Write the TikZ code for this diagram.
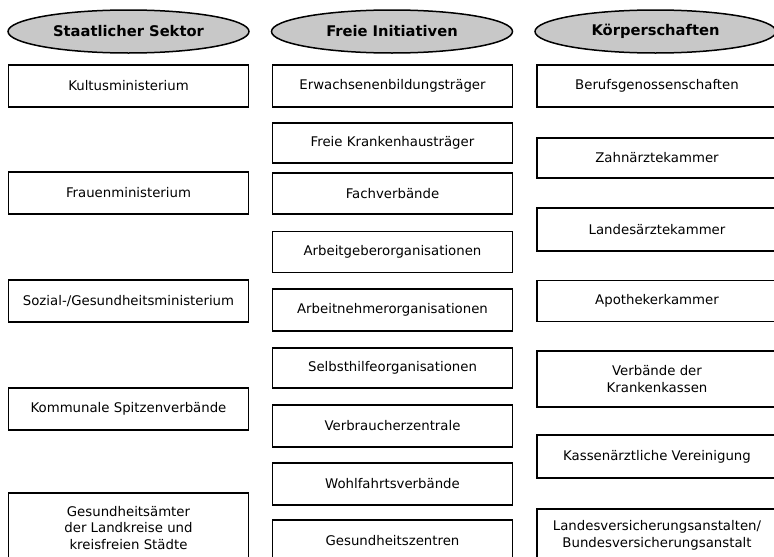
\documentclass[tikz,border=0pt]{standalone}
\usepackage{fontspec}
\setmainfont{DejaVu Sans}
\usetikzlibrary{shapes.geometric}
\definecolor{hdgray}{HTML}{C8C8C8}

\begin{document}
\begin{tikzpicture}[x=1pt,y=-1pt,
    head/.style={ellipse,draw,line width=1.5pt,fill=hdgray,
      minimum width=241pt,minimum height=43pt,inner sep=0pt,
      font=\fontsize{14.7}{17}\selectfont\bfseries},
    org/.style={rectangle,draw,line width=1.5pt,
      minimum width=240pt,minimum height=42pt,inner sep=0pt,
      align=center,font=\fontsize{13.3}{16.5}\selectfont}]

  \path[use as bounding box,clip] (0,0) rectangle (774,557);

  % --- column heads ---
  \node[head] (staat) at (128.5,31.5) {Staatlicher Sektor};
  \node[head] (frei)  at (392,31.5)   {Freie Initiativen};
  \node[head] (koerp) at (655.5,31.5) {Körperschaften};

  % --- staatlicher sektor ---
  \node[org] (kultus) at (128.5,86)  {Kultusministerium};
  \node[org] (frauen) at (128.5,193) {Frauenministerium};
  \node[org] (sozial) at (128.5,301) {Sozial-/Gesundheitsministerium};
  \node[org] (kommun) at (128.5,409) {Kommunale Spitzenverbände};
  \node[org,minimum height=70pt] (gesamt) at (128.5,528)
        {Gesundheitsämter\\der Landkreise und\\kreisfreien Städte};

  % --- freie initiativen ---
  \node[org] (erwbil) at (392.5,86)  {Erwachsenenbildungsträger};
  \node[org,minimum height=40pt] (khtrae) at (392.5,143) {Freie Krankenhausträger};
  \node[org,minimum height=41pt] (fachvb) at (392.5,193.5) {Fachverbände};
  \node[org,minimum height=41pt] (agorg)  at (392.5,252) {Arbeitgeberorganisationen};
  \node[org] (anorg)  at (392.5,310) {Arbeitnehmerorganisationen};
  \node[org,minimum height=40pt] (shilfe) at (392.5,368) {Selbsthilfeorganisationen};
  \node[org] (verbrz) at (392.5,426) {Verbraucherzentrale};
  \node[org] (wohlf)  at (392.5,484) {Wohlfahrtsverbände};
  \node[org] (gzentr) at (392.5,541) {Gesundheitszentren};

  % --- koerperschaften ---
  \node[org] (berufs) at (657,86)    {Berufsgenossenschaften};
  \node[org,minimum height=40pt] (zahnk)  at (657,158) {Zahnärztekammer};
  \node[org,minimum height=43pt] (laek)   at (657,229.5) {Landesärztekammer};
  \node[org,minimum height=41pt] (apok)   at (657,301) {Apothekerkammer};
  \node[org,minimum height=56pt] (vkk)    at (657,379)
        {Verbände der\\Krankenkassen};
  \node[org,minimum height=43pt] (kvrein) at (657,456.5) {Kassenärztliche Vereinigung};
  \node[org,minimum height=53pt] (lva)    at (657,535.5)
        {Landesversicherungsanstalten/\\Bundesversicherungsanstalt};

\end{tikzpicture}
\end{document}
